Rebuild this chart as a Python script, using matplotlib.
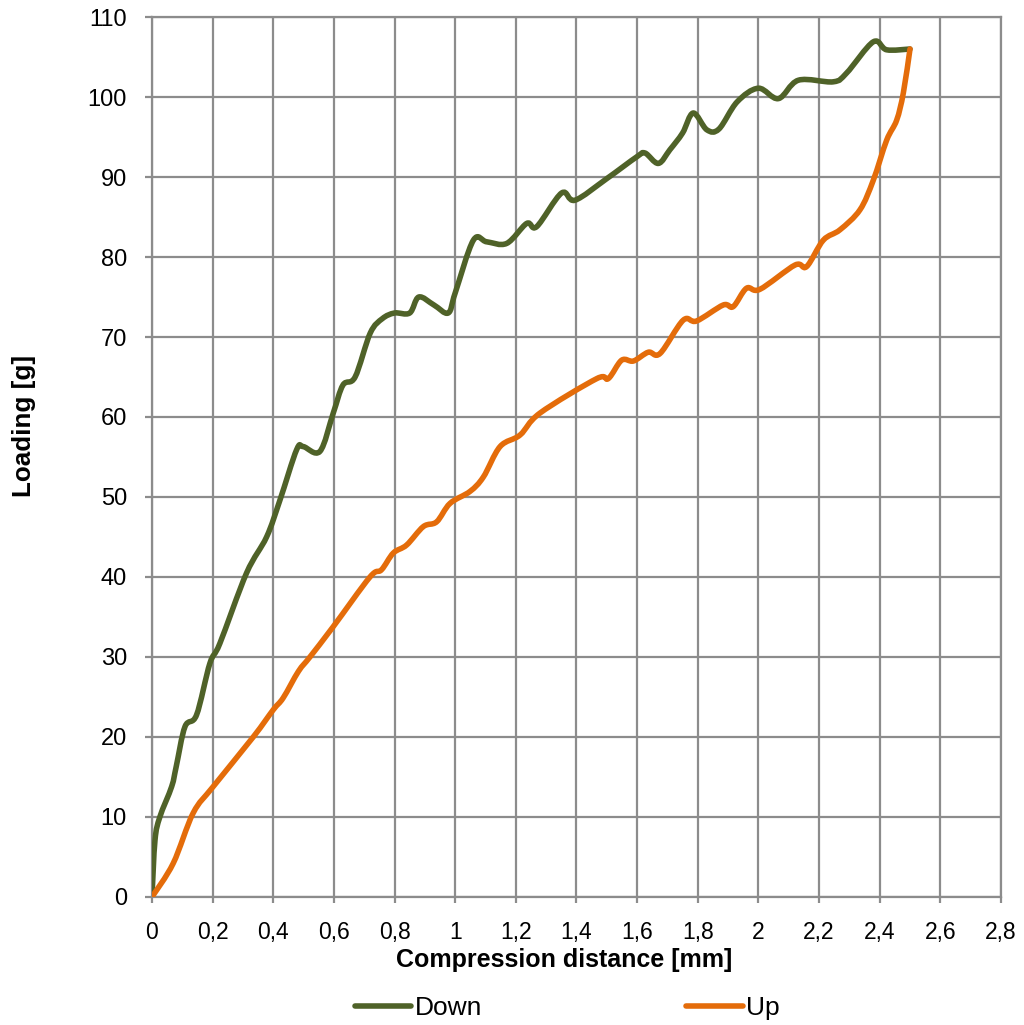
import matplotlib.pyplot as plt
import numpy as np
from matplotlib.path import Path
from matplotlib.patches import PathPatch
from matplotlib.lines import Line2D
from matplotlib.ticker import FuncFormatter

plt.rcParams['font.family'] = ['Liberation Sans', 'DejaVu Sans']

# values
down_x = [0, 0.01, 0.026, 0.065, 0.08, 0.109, 0.147, 0.191, 0.224, 0.312, 0.378, 0.422,
          0.477, 0.499, 0.554, 0.598, 0.63, 0.67, 0.72, 0.76, 0.8, 0.85, 0.88, 0.93, 0.977,
          1.0, 1.06, 1.104, 1.17, 1.236, 1.269, 1.351, 1.395, 1.5, 1.598, 1.626, 1.67,
          1.708, 1.75, 1.785, 1.83, 1.87, 1.93, 2.0, 2.066, 2.132, 2.247, 2.291, 2.379,
          2.423, 2.5]
down_y = [0, 7.1, 10, 13.8, 16.3, 21.3, 22.75, 29.2, 31.7, 40.5, 45, 49.6,
          55.9, 56.3, 55.7, 60.5, 64, 65, 70.5, 72.3, 73, 73, 75, 74, 73,
          75.5, 82.1, 81.9, 81.7, 84.2, 83.8, 88, 87.1, 89.8, 92.5, 93, 91.7,
          93.4, 95.5, 98, 95.9, 96, 99.4, 101.1, 99.8, 102.1, 101.9, 103, 106.9,
          105.9, 106]

up_x = [0, 0.07, 0.136, 0.202, 0.334, 0.4, 0.433, 0.483, 0.521, 0.598, 0.719, 0.757,
        0.796, 0.84, 0.895, 0.939, 0.983, 1.049, 1.093, 1.148, 1.214, 1.28, 1.467,
        1.505, 1.549, 1.588, 1.637, 1.676, 1.752, 1.796, 1.884, 1.917, 1.961, 2.005,
        2.121, 2.159, 2.214, 2.269, 2.335, 2.379, 2.423, 2.456, 2.478, 2.5]
up_y = [0, 4.2, 10.5, 13.8, 20, 23.4, 24.9, 28.2, 30, 33.8, 40, 40.9,
        43, 44, 46.3, 46.9, 49.2, 50.7, 52.5, 56.3, 57.75, 60.5, 64.8,
        64.8, 67.1, 67, 68.1, 67.95, 72.1, 72, 74, 73.8, 76.1, 75.96,
        79, 78.8, 82.1, 83.4, 85.9, 89.6, 94.6, 97.1, 100.5, 106]

x_ticks = np.arange(0, 2.81, 0.2)
y_ticks = np.arange(0, 111, 10)

green = '#4f6228'
orange = '#e46c0a'
grid_c = '#8c8c8c'


def smooth_path(xs, ys):
    # Catmull-Rom style bezier through the points, like a spreadsheet "smoothed line"
    pts = np.column_stack([xs, ys])
    verts = [pts[0]]
    codes = [Path.MOVETO]
    n = len(pts)
    for i in range(n - 1):
        p0 = pts[i - 1] if i > 0 else pts[i]
        p1 = pts[i]
        p2 = pts[i + 1]
        p3 = pts[i + 2] if i + 2 < n else pts[i + 1]
        c1 = p1 + (p2 - p0) / 6.0
        c2 = p2 - (p3 - p1) / 6.0
        verts += [c1, c2, p2]
        codes += [Path.CURVE4] * 3
    return Path(verts, codes)


fig = plt.figure(figsize=(10.24, 10.25), dpi=100)
ax = fig.add_axes([0.1484, 0.1249, 0.8291, 0.8585])

lw = 4.0
ax.add_patch(PathPatch(smooth_path(down_x, down_y), facecolor='none', edgecolor=green,
                       lw=lw, capstyle='round', joinstyle='round', zorder=3))
ax.add_patch(PathPatch(smooth_path(up_x, up_y), facecolor='none', edgecolor=orange,
                       lw=lw, capstyle='round', joinstyle='round', zorder=4))

ax.set_xlim(0, 2.8)
ax.set_ylim(0, 110)
ax.set_xticks(x_ticks)
ax.set_yticks(y_ticks)
ax.xaxis.set_major_formatter(FuncFormatter(lambda v, p: ('%g' % round(v, 1)).replace('.', ',')))
ax.grid(True, color=grid_c, lw=1.6)
ax.set_axisbelow(True)
for s in ax.spines.values():
    s.set_color(grid_c)
    s.set_linewidth(1.6)
ax.tick_params(axis='both', colors=grid_c, width=1.6, labelcolor='black')
ax.tick_params(axis='y', length=5, pad=13, labelsize=17)
ax.tick_params(axis='x', length=4.5, pad=13, labelsize=16.5)

ax.set_xlabel('Compression distance [mm]', fontsize=18, fontweight='bold')
ax.set_ylabel('Loading [g]', fontsize=18.7, fontweight='bold')
ax.xaxis.set_label_coords(0.485, -0.058)
ax.yaxis.set_label_coords(-0.136, 0.535)

handles = [Line2D([], [], color=green, lw=lw, solid_capstyle='round'),
           Line2D([], [], color=orange, lw=lw, solid_capstyle='round')]
fig.legend(handles, ['Down', 'Up'], loc='center', bbox_to_anchor=(0.554, 0.0166),
           ncol=2, frameon=False, fontsize=19, handlelength=2.15, handletextpad=0.15,
           columnspacing=7.7, borderaxespad=0, borderpad=0)

fig.savefig('out.png', dpi=100)
